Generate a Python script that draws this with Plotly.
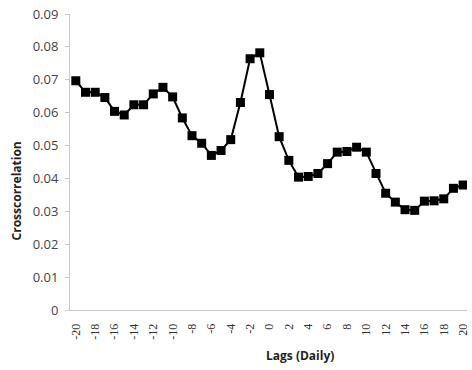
import plotly.graph_objects as go

lags = list(range(-20, 21))
crosscorr = [0.0697, 0.0662, 0.0662, 0.0646, 0.0604, 0.0593, 0.0624, 0.0624, 0.0657, 0.0677,
             0.0648, 0.0584, 0.0530, 0.0507, 0.0470, 0.0485, 0.0518, 0.0631, 0.0764, 0.0782,
             0.0655, 0.0527, 0.0455, 0.0404, 0.0406, 0.0415, 0.0445, 0.0480, 0.0482, 0.0495,
             0.0480, 0.0415, 0.0355, 0.0328, 0.0305, 0.0303, 0.0331, 0.0332, 0.0338, 0.0370,
             0.0380]
x_ticks = list(range(-20, 21, 2))
y_ticks = [0, 0.01, 0.02, 0.03, 0.04, 0.05, 0.06, 0.07, 0.08, 0.09]
y_tick_labels = ["0", "0.01", "0.02", "0.03", "0.04", "0.05", "0.06", "0.07", "0.08", "0.09"]

W, H = 472, 370
ML, MR, MT, MB = 70, 2, 14, 60
pw = W - ML - MR
ph = H - MT - MB

fig = go.Figure()
fig.add_trace(go.Scatter(
    x=lags, y=crosscorr, mode="lines+markers",
    line=dict(color="black", width=2),
    marker=dict(symbol="square", size=9, color="black"),
    showlegend=False,
))

fig.update_layout(
    width=W, height=H,
    margin=dict(l=ML, r=MR, t=MT, b=MB),
    paper_bgcolor="white", plot_bgcolor="white",
    font=dict(family="Open Sans, Liberation Sans, sans-serif", color="#333333"),
    xaxis=dict(
        range=[-20.6, 20.4], tickvals=x_ticks, ticktext=[str(v) for v in x_ticks],
        tickangle=-90, showgrid=False, zeroline=False,
        showline=True, linecolor="#c8c8c8", linewidth=1,
        ticks="", ticklabelstandoff=8, ticklabeloverflow="allow",
        tickfont=dict(size=12, family="Liberation Serif, serif", color="#333333"),
    ),
    yaxis=dict(
        range=[0, 0.09], tickvals=y_ticks, ticktext=y_tick_labels,
        showgrid=False, zeroline=False,
        showline=True, linecolor="#c8c8c8", linewidth=1,
        ticks="outside", ticklen=4, tickcolor="#c8c8c8", ticklabelstandoff=4,
        tickfont=dict(size=13, color="#444444"),
    ),
    annotations=[
        dict(text="<b>Lags (Daily)</b>", x=(302 - ML) / pw, y=(310 - 355) / ph,
             xref="paper", yref="paper", xanchor="center", yanchor="middle",
             showarrow=False, font=dict(size=12, color="#222222")),
        dict(text="<b>Crosscorrelation</b>", x=(16 - ML) / pw, y=(310 - 191) / ph,
             xref="paper", yref="paper", xanchor="center", yanchor="middle",
             textangle=-90, showarrow=False,
             font=dict(size=12, color="#222222")),
    ],
)

fig.write_html("out.html")
